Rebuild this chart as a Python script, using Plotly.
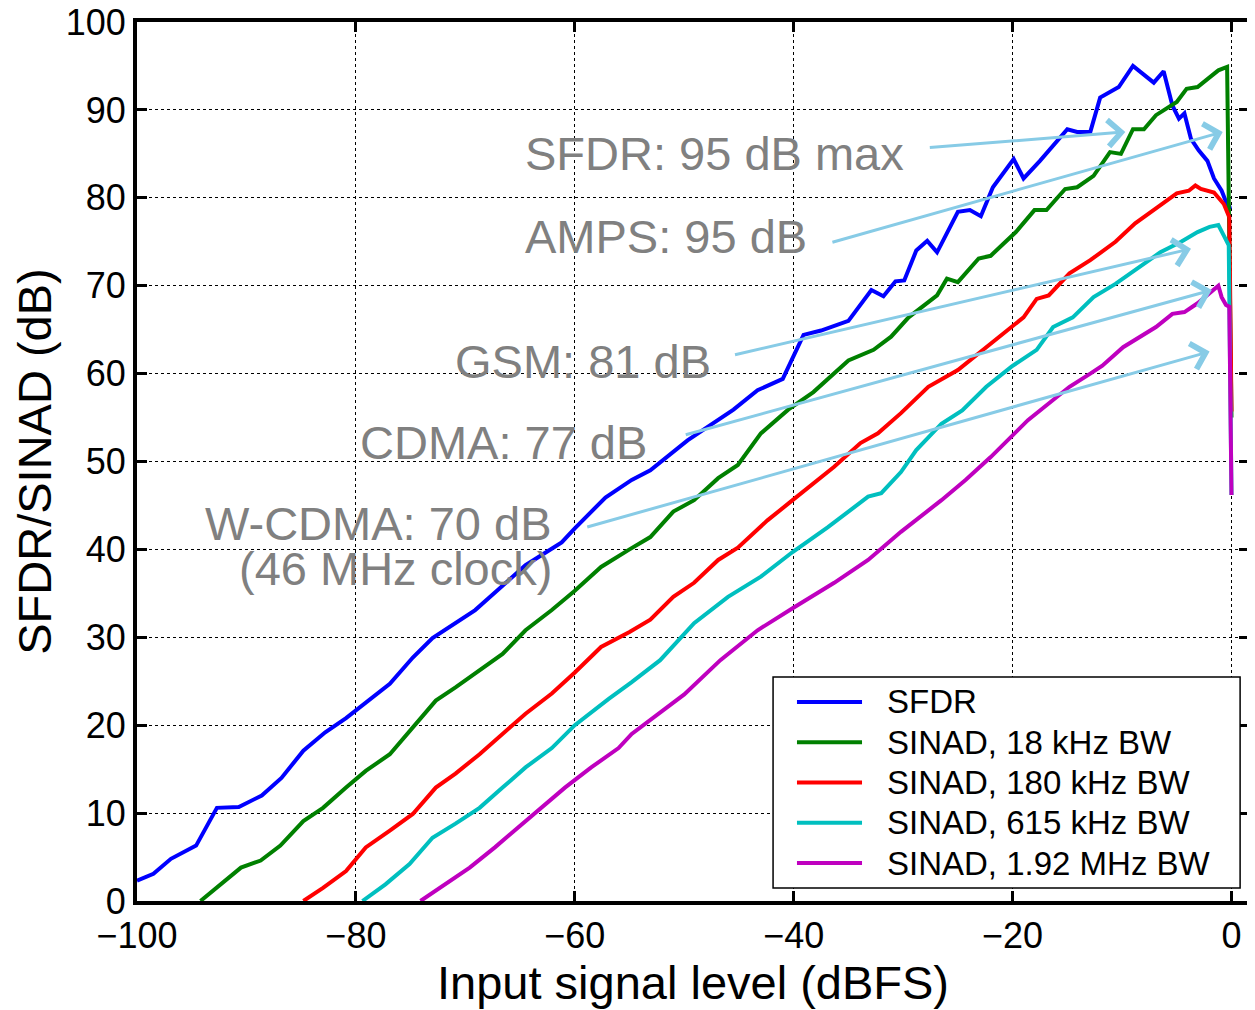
import plotly.graph_objects as go

# SFDR
sfdr_x = [-100, -98.5, -96.9, -94.6, -92.7, -90.7, -88.6, -86.8, -84.8, -82.8,
          -80.9, -79.1, -76.9, -74.8, -73, -69.1, -66.9, -64.5, -61.2, -60,
          -57.2, -54.8, -53.1, -49.7, -45.5, -43.3, -41, -39.1, -37.5, -35,
          -32.9, -31.8, -30.7, -29.9, -28.8, -27.8, -26.9, -25, -23.9, -22.9,
          -21.8, -19.9, -19, -17.5, -15, -14.1, -12.9, -12, -10.3, -9,
          -7.1, -6.2, -5.4, -4.8, -4.3, -3.7, -3, -2.2, -1.6, -0.9, -0.3, 0]
sfdr_y = [2.3, 3.1, 4.8, 6.3, 10.6, 10.7, 12, 14, 17.1, 19.2,
          20.8, 22.5, 24.7, 27.7, 29.9, 33.1, 35.6, 38.2, 40.8, 42.4,
          45.9, 47.9, 49, 52.4, 55.9, 58.1, 59.4, 64.4, 64.9, 66,
          69.5, 68.8, 70.5, 70.6, 74, 75.1, 73.8, 78.4, 78.6, 77.9,
          81.2, 84.4, 82.2, 84.2, 87.8, 87.5, 87.5, 91.4, 92.6, 95,
          93.1, 94.4, 90.5, 89, 89.6, 86.7, 85.4, 84.2, 82.2, 80.8, 78.9, 79]

# SINAD 18 kHz
s18_x = [-94.2, -92.7, -90.5, -88.7, -86.9, -84.8, -83, -80.9, -79.1, -76.9,
         -74.8, -72.7, -70.9, -68.7, -66.6, -64.5, -62.1, -60, -57.6, -55,
         -53.1, -51, -49.1, -46.9, -45.1, -43, -40.5, -38.2, -36.3, -35,
         -32.7, -31.1, -29.5, -26.9, -26, -25, -23.1, -22, -19.7, -18,
         -16.9, -15.2, -14.1, -12.6, -11.1, -10.1, -9, -8, -6.9, -5,
         -4.1, -3.1, -2.2, -1.2, -0.4, 0]
s18_y = [0, 1.5, 3.8, 4.6, 6.3, 9.1, 10.6, 12.9, 14.8, 16.7,
         19.8, 22.8, 24.3, 26.2, 28.1, 30.8, 33.1, 35.3, 38, 40,
         41.4, 44.3, 45.6, 48.1, 49.6, 53.2, 55.9, 57.9, 60.1, 61.5,
         62.7, 64.2, 66.4, 68.9, 70.8, 70.4, 73.1, 73.4, 76.1, 78.6,
         78.6, 81, 81.2, 82.5, 85.2, 85, 87.8, 87.8, 89.4, 90.9,
         92.4, 92.6, 93.5, 94.5, 94.9, 55]

# SINAD 180 kHz
s180_x = [-84.8, -83, -80.9, -79.1, -76.9, -74.8, -72.7, -70.9, -68.7, -66.6,
          -64.5, -62.1, -60, -57.6, -55, -53.1, -51, -49.1, -46.9, -45.1,
          -42.4, -40.1, -36.3, -33.9, -32.3, -30.2, -27.7, -25, -22.4, -20.1,
          -19, -17.8, -16.7, -14.8, -12.9, -10.6, -8.8, -6.9, -5, -3.9,
          -3.3, -2.8, -1.6, -0.7, -0.2, 0]
s180_y = [0, 1.5, 3.4, 6.1, 8, 9.9, 12.9, 14.5, 16.7, 19,
          21.3, 23.6, 26, 28.9, 30.6, 32, 34.6, 36.2, 38.8, 40.2,
          43.3, 45.6, 49.4, 52.1, 53.2, 55.5, 58.5, 60.4, 63, 65.3,
          66.4, 68.5, 68.9, 71.4, 72.9, 75, 77.1, 78.8, 80.5, 80.8,
          81.4, 81, 80.6, 79.3, 77.8, 55.7]

# SINAD 615 kHz
s615_x = [-79.4, -77.3, -75.1, -73, -70.9, -68.7, -66.6, -64.5, -62.1, -60,
          -56.9, -54.8, -52.2, -49.1, -46, -43, -40.1, -36.9, -33.2, -32,
          -30.2, -28.8, -26.5, -24.6, -22.4, -20.1, -17.8, -16.3, -14.5, -12.6,
          -10.6, -8.4, -6.5, -4.6, -3.1, -2, -1.2, -0.7, -0.25, 0]
s615_y = [0, 1.9, 4.2, 7.2, 8.8, 10.6, 12.9, 15.2, 17.4, 20,
          23, 24.9, 27.4, 31.6, 34.6, 36.9, 39.7, 42.5, 46, 46.4,
          48.8, 51.3, 54.3, 55.8, 58.5, 60.8, 62.7, 65.3, 66.4, 68.7,
          70.2, 72.1, 73.8, 75, 76.1, 76.7, 76.9, 75.7, 74.6, 46.2]

# SINAD 1.92 MHz
s192_x = [-74.1, -71.8, -69.6, -67.3, -65.1, -63, -60.9, -58.5, -56, -54.8,
          -50, -46.7, -43.3, -40.1, -36.3, -33.2, -30.2, -26.5, -24.3, -22,
          -20.1, -18.6, -16.7, -14.8, -12.9, -11.8, -9.9, -8.4, -6.9, -5.4,
          -4.3, -3.1, -2.4, -1.2, -0.9, -0.5, -0.2, 0]
s192_y = [0, 1.9, 3.8, 6.1, 8.4, 10.6, 12.9, 15.2, 17.4, 19,
          23.5, 27.4, 30.8, 33.3, 36.2, 38.8, 42, 45.6, 47.9, 50.5,
          52.8, 54.7, 56.6, 58.5, 60, 60.9, 63, 64.2, 65.3, 66.8,
          67, 68, 68.7, 70, 68.7, 67.8, 67.6, 46.2]

series = [
    ("SFDR", sfdr_x, sfdr_y, "#0000ff"),
    ("SINAD, 18 kHz BW", s18_x, s18_y, "#008000"),
    ("SINAD, 180 kHz BW", s180_x, s180_y, "#ff0000"),
    ("SINAD, 615 kHz BW", s615_x, s615_y, "#00bfbf"),
    ("SINAD, 1.92 MHz BW", s192_x, s192_y, "#bf00bf"),
]

# callouts: label, label anchor (x, y), arrow tail (x, y), arrow head (x, y)
callout_labels = ["SFDR: 95 dB max", "AMPS: 95 dB", "GSM: 81 dB", "CDMA: 77 dB", "W-CDMA: 70 dB"]
label_pos = [(-29.7, 85.0), (-38.6, 75.6), (-47.4, 61.4), (-53.2, 52.2), (-61.9, 42.9)]
arrow_tail = [(-27.7, 85.7), (-36.6, 74.9), (-45.5, 62.1), (-50.0, 53.0), (-59.0, 42.5)]
arrow_head = [(-9.7, 87.5), (-0.8, 87.5), (-3.7, 74.2), (-1.8, 69.5), (-2.0, 62.5)]

FONT = "Liberation Sans, Arial, Helvetica, sans-serif"
GRAY = "#808080"
ARROW = "#87cbe6"

fig = go.Figure()
for name, xs, ys, col in series:
    fig.add_trace(go.Scatter(x=xs, y=ys, mode="lines", name=name, showlegend=False,
                             line=dict(color=col, width=4)))

annotations = []
shapes = []
for lab, (lx, ly), (tx, ty), (hx, hy) in zip(callout_labels, label_pos, arrow_tail, arrow_head):
    annotations.append(dict(x=lx, y=ly, xref="x", yref="y", text=lab, showarrow=False,
                            xanchor="right", yanchor="middle",
                            font=dict(family=FONT, size=47, color=GRAY)))
    annotations.append(dict(x=hx, y=hy, ax=tx, ay=ty, xref="x", yref="y", axref="x", ayref="y",
                            text="", showarrow=True, arrowhead=4, arrowsize=1.7,
                            arrowwidth=3, arrowcolor=ARROW, standoff=0, startstandoff=0))
annotations.append(dict(x=-61.9, y=37.8, xref="x", yref="y", text="(46 MHz clock)",
                        showarrow=False, xanchor="right", yanchor="middle",
                        font=dict(family=FONT, size=47, color=GRAY)))

# legend box (matlab style) drawn in paper coords
shapes.append(dict(type="rect", xref="paper", yref="paper", x0=0.572, x1=0.992,
                   y0=0.0148, y1=0.2548, line=dict(color="black", width=1.5),
                   fillcolor="white", layer="above"))
row_top, row_step = 0.2264, 0.0458
for i, (name, xs, ys, col) in enumerate(series):
    ry = row_top - i * row_step
    shapes.append(dict(type="line", xref="paper", yref="paper", x0=0.5935, x1=0.652,
                       y0=ry, y1=ry, line=dict(color=col, width=4), layer="above"))
    annotations.append(dict(x=0.6727, y=ry, xref="paper", yref="paper", text=name,
                            showarrow=False, xanchor="left", yanchor="middle",
                            font=dict(family=FONT, size=33, color="black")))

axis_common = dict(
    showline=True, linecolor="black", linewidth=4, mirror="ticks",
    ticks="inside", ticklen=10, tickwidth=3, tickcolor="black",
    showgrid=True, gridcolor="black", gridwidth=1, griddash="dot",
    zeroline=False, automargin=False, ticklabeloverflow="allow",
    tickfont=dict(family=FONT, size=36, color="black"),
)

# page body has an 8px margin, so the figure is sized to fit inside it
fig.update_layout(
    width=1247, height=1002,
    margin=dict(l=129, r=6, t=14, b=109),
    paper_bgcolor="white", plot_bgcolor="white",
    font=dict(family=FONT, color="black"),
    xaxis=dict(range=[-100, 1.6], tickvals=[-100, -80, -60, -40, -20, 0],
               title=dict(text="Input signal level (dBFS)", font=dict(family=FONT, size=47),
                          standoff=2),
               **axis_common),
    yaxis=dict(range=[0, 100], tickvals=list(range(0, 101, 10)),
               title=dict(text="SFDR/SINAD (dB)", font=dict(family=FONT, size=47),
                          standoff=2),
               **axis_common),
    annotations=annotations,
    shapes=shapes,
    showlegend=False,
)

fig.write_html("out.html")
